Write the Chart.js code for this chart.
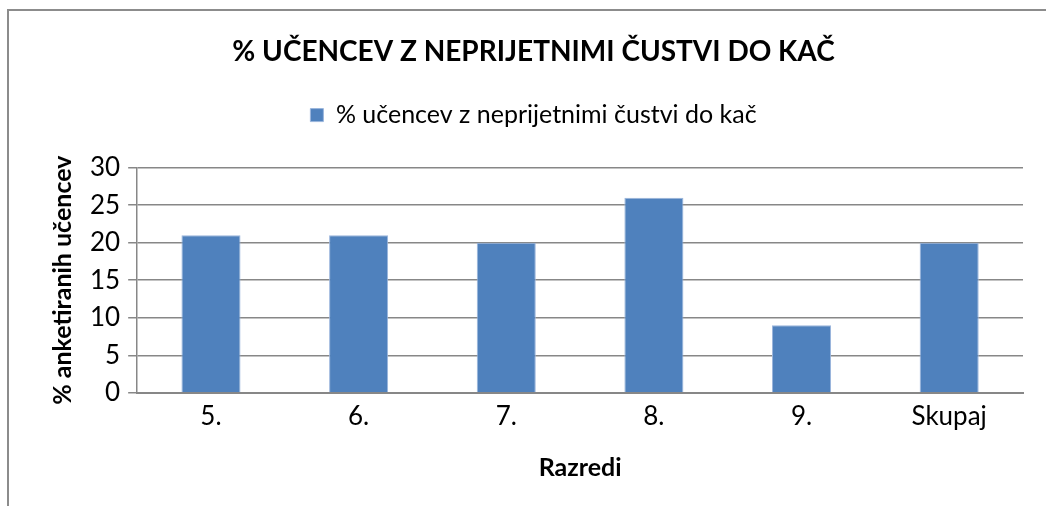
<!DOCTYPE html>
<html>
<head>
<meta charset="utf-8">
<script src="https://cdn.jsdelivr.net/npm/chart.js@4"></script>
<style>
    body { margin: 0; background: #fff; overflow: hidden; }
    #wrap { position: relative; width: 1046px; height: 506px; }
    #okvir {
        position: absolute; left: 7px; top: 9px; width: 1100px; height: 600px;
        border-top: 2px solid #8c8c8c; border-left: 2px solid #8c8c8c;
    }
    canvas { position: absolute; left: 0; top: 0; }
</style>
</head>
<body>
<div id="wrap">
    <div id="okvir"></div>
    <canvas id="myChart" width="1046" height="506"></canvas>
</div>
<script>
const razredi = ['5.', '6.', '7.', '8.', '9.', 'Skupaj'];
const odstotki = [21, 21, 20, 26, 9, 20];
const naslov = '% UČENCEV Z NEPRIJETNIMI ČUSTVI DO KAČ';
const oznakaSerije = '% učencev z neprijetnimi čustvi do kač';
const naslovY = '% anketiranih učencev';
const naslovX = 'Razredi';

const myChart = document.getElementById('myChart');
const sivaCrta = '#878787';

Chart.defaults.font.family = 'Lato, "Open Sans", sans-serif';
Chart.defaults.color = '#000';

// malo vec prostora pod legendo
const razmikLegende = {
    id: 'razmikLegende',
    beforeInit(chart) {
        const fit = chart.legend.fit;
        chart.legend.fit = function () {
            fit.bind(chart.legend)();
            this.height += 30;
        };
    },
};

const chartConfig = {
    type: 'bar',
    data: {
        labels: razredi,
        datasets: [
            {
                label: oznakaSerije,
                data: odstotki,
                backgroundColor: '#4f81bd',
                borderColor: '#9ab5dc',
                borderWidth: 1,
                categoryPercentage: 1,
                barPercentage: 0.4,
            },
        ],
    },
    options: {
        responsive: false,
        animation: false,
        layout: {
            padding: { left: 44, right: 23, top: 35, bottom: 19 },
        },
        plugins: {
            title: {
                display: true,
                text: naslov,
                font: { size: 28, weight: 'bold' },
                padding: { top: 0, bottom: 24 },
            },
            legend: {
                labels: {
                    boxWidth: 13,
                    boxHeight: 13,
                    padding: 10,
                    font: { size: 25 },
                },
            },
            tooltip: { enabled: false },
        },
        scales: {
            x: {
                grid: { display: false },
                border: { display: true, color: sivaCrta, width: 2 },
                ticks: { font: { size: 26 }, padding: 0 },
                title: {
                    display: true,
                    text: naslovX,
                    font: { size: 25, weight: 'bold' },
                    padding: { top: 21 },
                },
            },
            y: {
                min: 0,
                max: 30,
                ticks: { stepSize: 5, font: { size: 26 }, padding: 8 },
                grid: { color: sivaCrta, lineWidth: 1.5, tickLength: 9 },
                border: { display: true, color: sivaCrta, width: 1.5 },
                title: {
                    display: true,
                    text: naslovY,
                    font: { size: 25, weight: 'bold' },
                    padding: { bottom: 4 },
                },
            },
        },
    },
    plugins: [razmikLegende],
};

new Chart(myChart, chartConfig);
</script>
</body>
</html>
